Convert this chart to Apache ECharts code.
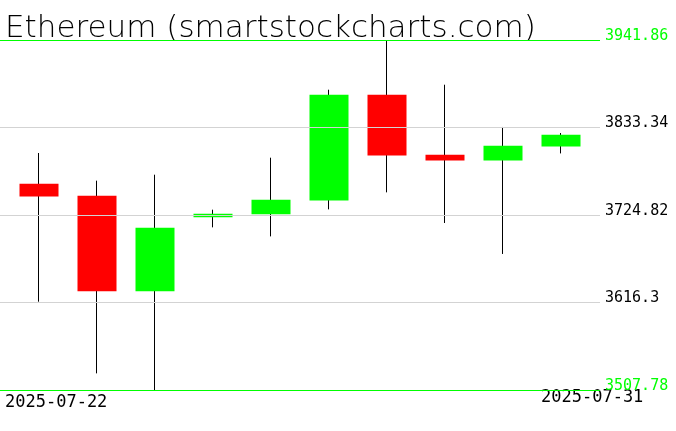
<!DOCTYPE html>
<html>
<head>
<meta charset="utf-8">
<script src="https://cdn.jsdelivr.net/npm/echarts@6/dist/echarts.min.js"></script>
<style>
  html, body { margin: 0; padding: 0; background: #fff; }
  #main { width: 676px; height: 431px; }
</style>
</head>
<body>
<div id="main"></div>
<script>
// daily candles
var dates = ['2025-07-22', '2025-07-23', '2025-07-24', '2025-07-25', '2025-07-26',
  '2025-07-27', '2025-07-28', '2025-07-29', '2025-07-30', '2025-07-31']
var opens = [3763.6, 3748.8, 3630.1, 3721.9, 3725.6, 3742.9, 3874.0, 3799.6, 3792.5, 3809.9]
var closes = [3747.9, 3630.1, 3709.1, 3726.4, 3743.8, 3874.0, 3798.7, 3792.5, 3810.8, 3824.4]
var lows = [3617.3, 3528.4, 3507.78, 3709.5, 3698.3, 3731.8, 3752.9, 3714.9, 3676.5, 3801.2]
var highs = [3801.7, 3767.4, 3774.8, 3731.4, 3795.9, 3880.2, 3941.86, 3886.4, 3834.0, 3826.5]

// the y axis ticks: low, high and the step between them
var axisMin = 3507.78
var axisMax = 3941.86
var tickLabels = ['3507.78', '3616.3', '3724.82', '3833.34', '3941.86']

var span = axisMax - axisMin
var step = span / 4

// values are shifted so the axis starts at 0 (ticks then land on the labels above)
var wickData = dates.map(function(d, i) {
  return [opens[i] - axisMin, closes[i] - axisMin, lows[i] - axisMin, highs[i] - axisMin]
})
var bodyData = dates.map(function(d, i) {
  var lo = Math.min(opens[i], closes[i]) - axisMin
  var hi = Math.max(opens[i], closes[i]) - axisMin
  return [opens[i] - axisMin, closes[i] - axisMin, lo, hi]
})

var myChart = echarts.init(document.getElementById('main'))
myChart.setOption({
  backgroundColor: '#fff',
  animation: false,
  title: {
    text: 'Ethereum (smartstockcharts.com)',
    left: 0,
    top: 8,
    textStyle: {
      fontFamily: 'DejaVu Sans',
      fontWeight: 200,
      fontSize: 31,
      color: '#000'
    }
  },
  graphic: [{
    type: 'text',
    left: 5,
    top: 394,
    style: { text: dates[0], font: '17px "DejaVu Sans Mono"', fill: '#000' }
  }, {
    type: 'text',
    left: 541,
    top: 389,
    style: { text: dates[dates.length - 1], font: '17px "DejaVu Sans Mono"', fill: '#000' }
  }],
  grid: [{
    left: 0, top: 40, width: 600, height: 350
  }, {
    left: 10, top: 40, width: 580, height: 350
  }],
  xAxis: [{
    gridIndex: 0,
    type: 'value',
    min: 0,
    max: 1,
    show: false
  }, {
    gridIndex: 1,
    type: 'category',
    data: dates,
    show: false
  }],
  yAxis: [{
    gridIndex: 0,
    type: 'value',
    position: 'right',
    min: 0,
    max: span,
    interval: step,
    z: 10,
    axisLine: { show: false },
    axisTick: { show: false },
    splitLine: {
      show: true,
      lineStyle: {
        width: 1,
        color: ['#00ff00', '#d3d3d3', '#d3d3d3', '#d3d3d3', '#00ff00']
      }
    },
    axisLabel: {
      margin: 5,
      fontFamily: 'DejaVu Sans Mono',
      fontSize: 15,
      verticalAlign: 'bottom',
      lineHeight: 8,
      formatter: function(v) {
        return tickLabels[Math.round(v / step)]
      },
      color: function(v) {
        var k = Math.round(v / step)
        return (k === 0 || k === 4) ? '#00ff00' : '#000'
      }
    }
  }, {
    gridIndex: 1,
    type: 'value',
    min: 0,
    max: span,
    show: false
  }],
  series: [{
    name: 'wick',
    type: 'candlestick',
    xAxisIndex: 1,
    yAxisIndex: 1,
    barWidth: 1,
    data: wickData,
    itemStyle: {
      color: '#000',
      color0: '#000',
      borderColor: '#000',
      borderColor0: '#000',
      borderWidth: 1
    }
  }, {
    name: 'Ethereum',
    type: 'candlestick',
    xAxisIndex: 1,
    yAxisIndex: 1,
    barWidth: 40,
    data: bodyData,
    itemStyle: {
      color: '#00ff00',
      color0: '#ff0000',
      borderColor: '#00ff00',
      borderColor0: '#ff0000',
      borderWidth: 0
    }
  }]
})
</script>
</body>
</html>
